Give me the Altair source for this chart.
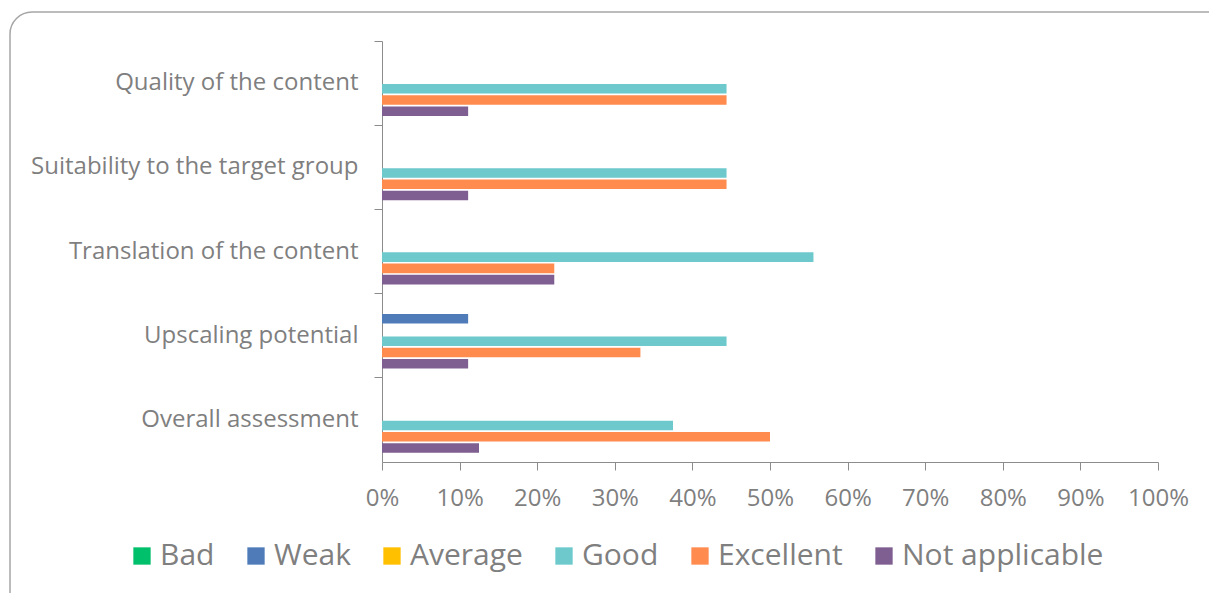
import altair as alt
import pandas as pd

categories = ["Quality of the content", "Suitability to the target group",
              "Translation of the content", "Upscaling potential", "Overall assessment"]
series = ["Bad", "Weak", "Average", "Good", "Excellent", "Not applicable"]
colors = ["#00C06B", "#4F7CB8", "#FFC000", "#6DC9CC", "#FF8B4F", "#7F5F91"]

bad = [0, 0, 0, 0, 0]
weak = [0, 0, 0, 11.1, 0]
average = [0, 0, 0, 0, 0]
good = [44.4, 44.4, 55.6, 44.4, 37.5]
excellent = [44.4, 44.4, 22.2, 33.3, 50.0]
not_applicable = [11.1, 11.1, 22.2, 11.1, 12.5]

x_ticks = [0, 0.1, 0.2, 0.3, 0.4, 0.5, 0.6, 0.7, 0.8, 0.9, 1.0]

rows = []
for name, vals in zip(series, [bad, weak, average, good, excellent, not_applicable]):
    for cat, v in zip(categories, vals):
        if v > 0:
            rows.append({"category": cat, "series": name, "value": v / 100})
df = pd.DataFrame(rows)

FONT = "Open Sans"
GRAY = "#7F7F7F"
LINE = "#8C8C8C"

bars = alt.Chart(df).mark_bar().encode(
    x=alt.X("value:Q",
            scale=alt.Scale(domain=[0, 1], nice=False),
            axis=alt.Axis(title=None, format=".0%", values=x_ticks, grid=False,
                          domainColor=LINE, tickColor=LINE, tickSize=8,
                          labelFont=FONT, labelFontSize=24, labelColor=GRAY,
                          labelPadding=16, labelOverlap=False, labelFlush=False)),
    y=alt.Y("category:N", sort=categories,
            scale=alt.Scale(paddingInner=0, paddingOuter=0),
            axis=alt.Axis(title=None, bandPosition=0,
                          domainColor=LINE, tickColor=LINE, tickSize=8,
                          labelFont=FONT, labelFontSize=24, labelColor=GRAY,
                          labelPadding=16, labelLimit=400)),
    yOffset=alt.YOffset("series:N", sort=series,
                        scale=alt.Scale(domain=series, paddingInner=0.15, paddingOuter=0.82)),
    color=alt.Color("series:N", sort=series,
                    scale=alt.Scale(domain=series, range=colors),
                    legend=alt.Legend(title=None, orient="none", direction="horizontal",
                                      legendX=-255, legendY=500,
                                      symbolType="square", symbolSize=300,
                                      symbolStrokeWidth=0, symbolOpacity=1,
                                      labelFont=FONT, labelFontSize=30, labelColor=GRAY,
                                      labelLimit=500, labelOffset=3, columnPadding=26)),
)

border = alt.Chart(pd.DataFrame({"a": [0]})).mark_rect(
    fill="transparent", stroke="#A6A6A6", strokeWidth=1.5, cornerRadius=22
).encode(
    x=alt.value(-372), x2=alt.value(850), y=alt.value(-29), y2=alt.value(575)
)

chart = alt.layer(border, bars).properties(
    width=776, height=421,
    autosize=alt.AutoSizeParams(type="none"),
    padding={"left": 382, "top": 41, "right": 51, "bottom": 131},
).configure_view(stroke=None)

chart.save("out.html", embed_options={"renderer": "svg", "actions": False})
